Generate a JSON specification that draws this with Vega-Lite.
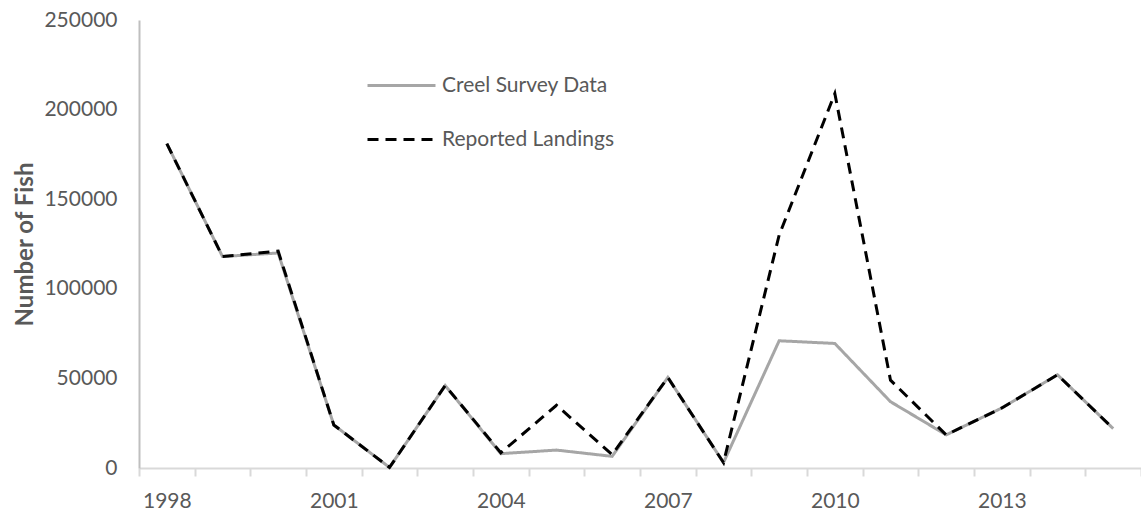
{
  "$schema": "https://vega.github.io/schema/vega-lite/v6.json",
  "autosize": {"type": "none"},
  "width": 1002,
  "height": 448,
  "padding": {"left": 139, "top": 20, "right": 0, "bottom": 49},
  "background": "white",
  "config": {"view": {"stroke": null}, "font": "Lato"},
  "data": {"values": [
    {"year": 1998, "series": "Creel Survey Data", "fish": 181000},
    {"year": 1999, "series": "Creel Survey Data", "fish": 118000},
    {"year": 2000, "series": "Creel Survey Data", "fish": 120000},
    {"year": 2001, "series": "Creel Survey Data", "fish": 24000},
    {"year": 2002, "series": "Creel Survey Data", "fish": 300},
    {"year": 2003, "series": "Creel Survey Data", "fish": 46000},
    {"year": 2004, "series": "Creel Survey Data", "fish": 8000},
    {"year": 2005, "series": "Creel Survey Data", "fish": 10000},
    {"year": 2006, "series": "Creel Survey Data", "fish": 6500},
    {"year": 2007, "series": "Creel Survey Data", "fish": 50500},
    {"year": 2008, "series": "Creel Survey Data", "fish": 3000},
    {"year": 2009, "series": "Creel Survey Data", "fish": 71000},
    {"year": 2010, "series": "Creel Survey Data", "fish": 69500},
    {"year": 2011, "series": "Creel Survey Data", "fish": 37000},
    {"year": 2012, "series": "Creel Survey Data", "fish": 18500},
    {"year": 2013, "series": "Creel Survey Data", "fish": 33500},
    {"year": 2014, "series": "Creel Survey Data", "fish": 52000},
    {"year": 2015, "series": "Creel Survey Data", "fish": 22000},
    {"year": 1998, "series": "Reported Landings", "fish": 181000},
    {"year": 1999, "series": "Reported Landings", "fish": 118000},
    {"year": 2000, "series": "Reported Landings", "fish": 121000},
    {"year": 2001, "series": "Reported Landings", "fish": 24000},
    {"year": 2002, "series": "Reported Landings", "fish": 300},
    {"year": 2003, "series": "Reported Landings", "fish": 46000},
    {"year": 2004, "series": "Reported Landings", "fish": 8500},
    {"year": 2005, "series": "Reported Landings", "fish": 35000},
    {"year": 2006, "series": "Reported Landings", "fish": 7500},
    {"year": 2007, "series": "Reported Landings", "fish": 50500},
    {"year": 2008, "series": "Reported Landings", "fish": 3000},
    {"year": 2009, "series": "Reported Landings", "fish": 130000},
    {"year": 2010, "series": "Reported Landings", "fish": 209000},
    {"year": 2011, "series": "Reported Landings", "fish": 49000},
    {"year": 2012, "series": "Reported Landings", "fish": 18500},
    {"year": 2013, "series": "Reported Landings", "fish": 33500},
    {"year": 2014, "series": "Reported Landings", "fish": 52000},
    {"year": 2015, "series": "Reported Landings", "fish": 22000}
  ]},
  "mark": {"type": "line", "strokeWidth": 3, "strokeJoin": "miter"},
  "encoding": {
    "x": {
      "field": "year", "type": "ordinal",
      "scale": {"type": "band", "paddingInner": 0, "paddingOuter": 0},
      "axis": {
        "title": null, "labelAngle": 0, "tickBand": "extent", "labelOverlap": false,
        "labelExpr": "(datum.value - 1998) % 3 == 0 ? datum.label : ''",
        "domainColor": "#d9d9d9", "domainWidth": 2, "tickColor": "#d9d9d9", "tickWidth": 2, "tickSize": 8,
        "labelPadding": 14, "labelFontSize": 21, "labelColor": "#595959", "grid": false
      }
    },
    "y": {
      "field": "fish", "type": "quantitative",
      "scale": {"domain": [0, 250000], "nice": false},
      "axis": {
        "title": "Number of Fish", "titleFontSize": 24, "titleFontWeight": "bold", "titleColor": "#595959", "titlePadding": 6,
        "values": [0, 50000, 100000, 150000, 200000, 250000], "format": "d",
        "labelFontSize": 21, "labelColor": "#595959", "labelPadding": 22,
        "ticks": false, "grid": false, "domainColor": "#bfbfbf", "domainWidth": 2
      }
    },
    "color": {
      "field": "series", "type": "nominal",
      "scale": {"domain": ["Creel Survey Data", "Reported Landings"], "range": ["#a6a6a6", "#000000"]},
      "legend": {
        "title": null, "orient": "none", "legendX": 227, "legendY": 30,
        "symbolType": "stroke", "symbolSize": 4624, "symbolStrokeWidth": 3, "labelLimit": 400,
        "labelFontSize": 21, "labelColor": "#595959", "labelOffset": 5, "rowPadding": 8
      }
    },
    "strokeDash": {
      "field": "series", "type": "nominal",
      "scale": {"domain": ["Creel Survey Data", "Reported Landings"], "range": [[1, 0], [11, 7]]},
      "legend": {
        "title": null, "orient": "none", "legendX": 227, "legendY": 30,
        "symbolType": "stroke", "symbolSize": 4624, "symbolStrokeWidth": 3, "labelLimit": 400,
        "labelFontSize": 21, "labelColor": "#595959", "labelOffset": 5, "rowPadding": 8
      }
    }
  }
}
